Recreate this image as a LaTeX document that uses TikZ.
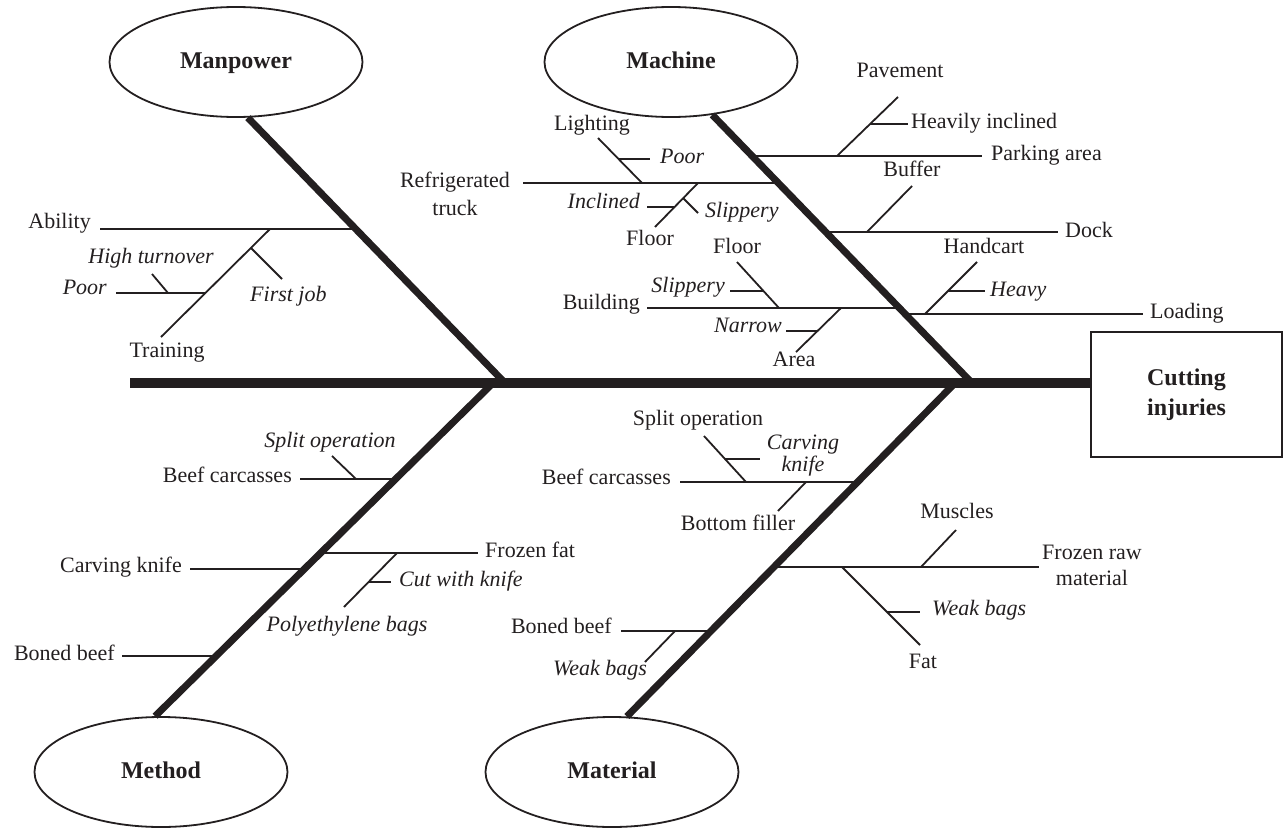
\documentclass[tikz,border=0pt]{standalone}
\usepackage{fontspec}
\setmainfont{Liberation Serif}
\usetikzlibrary{shapes.geometric}
\definecolor{ink}{RGB}{35,31,32}
\begin{document}
\begin{tikzpicture}[x=1pt,y=-1pt,
  lbl/.style={inner sep=0pt, text=ink, font=\fontsize{22}{26}\selectfont, text height=15pt, text depth=4pt},
  ital/.style={lbl, font=\fontsize{22}{26}\selectfont\itshape},
  multi/.style={inner sep=0pt, text=ink, align=center},
  cause/.style={ellipse, draw=ink, line width=1.8pt, minimum width=253pt, minimum height=110pt,
    inner sep=0pt, text=ink, text height=16pt, text depth=3pt, font=\fontsize{24}{28}\selectfont\bfseries},
  effect/.style={rectangle, draw=ink, line width=1.6pt, minimum width=191pt, minimum height=125pt,
    align=center, text=ink, font=\fontsize{24}{30}\selectfont\bfseries},
  twig/.style={draw=ink, line width=1.8pt},
  bone/.style={draw=ink, line width=7pt},
  spine/.style={draw=ink, line width=10pt}
]
\useasboundingbox (0,0) rectangle (1283,830);

% ---------- categories and effect ----------
\node[cause] (manpower) at (236,62) {Manpower};
\node[cause] (machine)  at (671,62) {Machine};
\node[cause] (method)   at (161,772) {Method};
\node[cause] (material) at (612,772) {Material};
\node[effect] (effect) at (1186.5,394.5) {Cutting\\injuries};

% ---------- spine and main bones ----------
\coordinate (spL) at (130,383);
\coordinate (mpB) at (505,383);
\coordinate (mcB) at (972,383);
\coordinate (mtB) at (493,383);
\coordinate (maB) at (955,383);

% ---------- Manpower branches ----------
\coordinate (mpAb) at (356,229);  \coordinate (abE) at (100,229);
\coordinate (trA) at (270,229);   \coordinate (trE) at (161,337);
\coordinate (fjA) at (251,248);   \coordinate (fjE) at (282,279);
\coordinate (poA) at (205,293);   \coordinate (poE) at (116,293);
\coordinate (htA) at (168,293);   \coordinate (htE) at (152,274);
\draw[twig] (mpAb) -- (abE);
\draw[twig] (trA) -- (trE);
\draw[twig] (fjA) -- (fjE);
\draw[twig] (poA) -- (poE);
\draw[twig] (htA) -- (htE);
\node[lbl, anchor=east] (tAbility) at (91,223) {Ability};
\node[ital] (tHigh) at (151,258) {High turnover};
\node[ital, anchor=east] (tPoor1) at (107,289) {Poor};
\node[ital, anchor=west] (tFirst) at (250,296) {First job};
\node[lbl] (tTraining) at (167,352) {Training};

% ---------- Machine branches ----------
\coordinate (rtA) at (777,183);   \coordinate (rtE) at (523,183);
\coordinate (liA) at (642,183);   \coordinate (liE) at (598,138);
\coordinate (lpA) at (619,159);   \coordinate (lpE) at (650,159);
\coordinate (flA) at (698,183);   \coordinate (flE) at (655,227);
\coordinate (inA) at (674.5,207); \coordinate (inE) at (647,207);
\coordinate (slA) at (683,198);   \coordinate (slE) at (698,213);
\coordinate (buA) at (899,308);   \coordinate (buE) at (647,308);
\coordinate (bfA) at (779,308);   \coordinate (bfE) at (737,262);
\coordinate (bsA) at (763,291);   \coordinate (bsE) at (730,291);
\coordinate (arA) at (841,308);   \coordinate (arE) at (796,352);
\coordinate (naA) at (817,331);   \coordinate (naE) at (786,331);
\coordinate (paA) at (751,156);   \coordinate (paE) at (982,156);
\coordinate (pvA) at (837,156);   \coordinate (pvE) at (898,97);
\coordinate (hiA) at (870,124);   \coordinate (hiE) at (908,124);
\coordinate (doA) at (825,232);   \coordinate (doE) at (1058,232);
\coordinate (bfrA) at (867,232);  \coordinate (bfrE) at (912,186);
\coordinate (loA) at (905,314);   \coordinate (loE) at (1143,314);
\coordinate (hcA) at (925,314);   \coordinate (hcE) at (977,262);
\coordinate (hvA) at (948,291);   \coordinate (hvE) at (985,291);
\foreach \a/\b in {rtA/rtE, liA/liE, lpA/lpE, flA/flE, inA/inE, slA/slE,
                   buA/buE, bfA/bfE, bsA/bsE, arA/arE, naA/naE,
                   paA/paE, pvA/pvE, hiA/hiE, doA/doE, bfrA/bfrE,
                   loA/loE, hcA/hcE, hvA/hvE}
  \draw[twig] (\a) -- (\b);
\node[multi, font=\fontsize{22}{28}\selectfont] (tTruck) at (455,194) {Refrigerated\\truck};
\node[lbl] (tLighting) at (592,125) {Lighting};
\node[ital, anchor=west] (tPoor2) at (660,158) {Poor};
\node[ital, anchor=east] (tInclined) at (640,203) {Inclined};
\node[ital, anchor=west] (tSlip1) at (705,212) {Slippery};
\node[lbl] (tFloor1) at (650,240) {Floor};
\node[lbl] (tFloor2) at (737,248) {Floor};
\node[lbl, anchor=east] (tBuilding) at (640,304) {Building};
\node[ital, anchor=east] (tSlip2) at (725,287) {Slippery};
\node[ital, anchor=east] (tNarrow) at (782,327) {Narrow};
\node[lbl] (tArea) at (794,361) {Area};
\node[lbl] (tPavement) at (900,72) {Pavement};
\node[lbl, anchor=west] (tHeavily) at (911,123) {Heavily inclined};
\node[lbl, anchor=west] (tParking) at (991,155) {Parking area};
\node[lbl] (tBuffer) at (912,171) {Buffer};
\node[lbl, anchor=west] (tDock) at (1065,232) {Dock};
\node[lbl] (tHandcart) at (984,248) {Handcart};
\node[ital, anchor=west] (tHeavy) at (990,291) {Heavy};
\node[lbl, anchor=west] (tLoading) at (1150,313) {Loading};

% ---------- Method branches ----------
\coordinate (mbA) at (396,479);   \coordinate (mbE) at (300,479);
\coordinate (msA) at (356,479);   \coordinate (msE) at (332,456);
\coordinate (ckA) at (305,569);   \coordinate (ckE) at (190,569);
\coordinate (ffA) at (321,553);   \coordinate (ffE) at (478,553);
\coordinate (pbA) at (397,553);   \coordinate (pbE) at (344,607);
\coordinate (cwA) at (369,582);   \coordinate (cwE) at (391,582);
\coordinate (bbA) at (217,656);   \coordinate (bbE) at (122,656);
\foreach \a/\b in {mbA/mbE, msA/msE, ckA/ckE, ffA/ffE, pbA/pbE, cwA/cwE, bbA/bbE}
  \draw[twig] (\a) -- (\b);
\node[ital] (tSplit1) at (330,442) {Split operation};
\node[lbl, anchor=east] (tBeef1) at (292,477) {Beef carcasses};
\node[lbl, anchor=east] (tCarving1) at (182,567) {Carving knife};
\node[lbl, anchor=west] (tFrozenFat) at (485,552) {Frozen fat};
\node[ital, anchor=west] (tCut) at (399,581) {Cut with knife};
\node[ital] (tPoly) at (347,626) {Polyethylene bags};
\node[lbl, anchor=east] (tBoned1) at (115,655) {Boned beef};

% ---------- Material branches ----------
\coordinate (xbA) at (858,482);   \coordinate (xbE) at (680,482);
\coordinate (xsA) at (746,482);   \coordinate (xsE) at (704,436);
\coordinate (xkA) at (725,459);   \coordinate (xkE) at (760,459);
\coordinate (xfA) at (806,482);   \coordinate (xfE) at (778,511);
\coordinate (frA) at (774,567);   \coordinate (frE) at (1039,567);
\coordinate (muA) at (921,567);   \coordinate (muE) at (956,530);
\coordinate (faA) at (842,567);   \coordinate (faE) at (920,645);
\coordinate (wbA) at (887,612);   \coordinate (wbE) at (920,612);
\coordinate (ybA) at (711,631);   \coordinate (ybE) at (621,631);
\coordinate (ywA) at (675,631);   \coordinate (ywE) at (645,662);
\foreach \a/\b in {xbA/xbE, xsA/xsE, xkA/xkE, xfA/xfE, frA/frE,
                   muA/muE, faA/faE, wbA/wbE, ybA/ybE, ywA/ywE}
  \draw[twig] (\a) -- (\b);
\node[lbl] (tSplit2) at (698,420) {Split operation};
\node[multi, font=\fontsize{22}{22}\selectfont\itshape] (tCarving2) at (803,456) {Carving\\knife};
\node[lbl, anchor=east] (tBeef2) at (671,479) {Beef carcasses};
\node[lbl] (tBottom) at (738,525) {Bottom filler};
\node[lbl] (tMuscles) at (957,513) {Muscles};
\node[multi, font=\fontsize{22}{26}\selectfont] (tFrozenRaw) at (1092,565) {Frozen raw\\material};
\node[ital, anchor=west] (tWeak1) at (932,610) {Weak bags};
\node[lbl] (tFat) at (923,663) {Fat};
\node[lbl, anchor=east] (tBoned2) at (612,628) {Boned beef};
\node[ital] (tWeak2) at (600,670) {Weak bags};

% ---------- heavy lines on top ----------
\draw[bone] (mpB) -- (manpower.282);
\draw[bone] (mcB) -- (machine.308);
\draw[bone] (mtB) -- (method.96);
\draw[bone] (maB) -- (material.75);
\draw[spine] (spL) -- (spL -| effect.west);
\end{tikzpicture}
\end{document}
